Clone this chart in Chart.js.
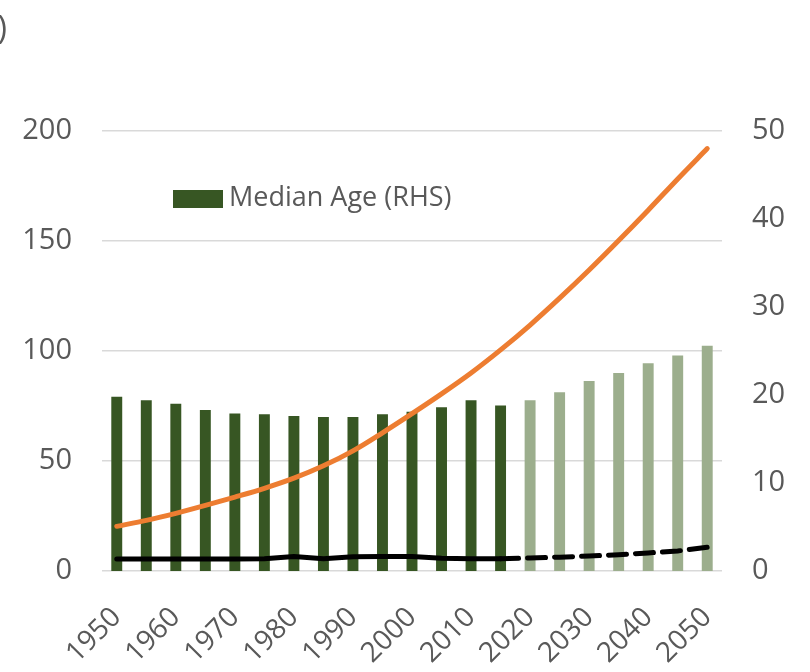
<!DOCTYPE html>
<html>
<head>
<meta charset="utf-8">
<script src="https://cdn.jsdelivr.net/npm/chart.js@4.4.1/dist/chart.umd.min.js"></script>
<style>
  body { margin: 0; background: #fff; }
  #wrap { width: 810px; height: 672px; }
</style>
</head>
<body>
<div id="wrap"><canvas id="popChart" width="810" height="672"></canvas></div>
<script>
// years on the category axis (every 5 years)
const years = [1950, 1955, 1960, 1965, 1970, 1975, 1980, 1985, 1990, 1995, 2000,
  2005, 2010, 2015, 2020, 2025, 2030, 2035, 2040, 2045, 2050];

// median age, right hand scale
const medianAge = [19.8, 19.4, 19.0, 18.3, 17.9, 17.8, 17.6, 17.5, 17.5, 17.8, 18.1,
  18.6, 19.4, 18.8, 19.4, 20.3, 21.6, 22.5, 23.6, 24.5, 25.6];

// orange line, left hand scale
const orangeSeries = [20.3, 23.0, 26.2, 29.8, 33.6, 37.6, 42.2, 47.8, 54.6, 62.8, 71.5,
  80.5, 90.0, 100.5, 111.8, 124.0, 136.8, 150.2, 164.0, 178.2, 192.0];

// black line, left hand scale
const blackSeries = [5.5, 5.5, 5.5, 5.5, 5.5, 5.6, 6.6, 5.6, 6.5, 6.6, 6.6,
  5.8, 5.6, 5.6, 5.9, 6.3, 6.8, 7.4, 8.2, 9.1, 10.8];

const leftTicks = [0, 50, 100, 150, 200];
const rightTicks = [0, 10, 20, 30, 40, 50];
const lastActualYear = 2015;

const FONT = '"Open Sans", "Liberation Sans", sans-serif';
const GREY = '#595959';
const DARK_GREEN = '#375623';
const LIGHT_GREEN = '#9cae8d';

const lastActualIdx = years.indexOf(lastActualYear);
const barColors = years.map(y => y <= lastActualYear ? DARK_GREEN : LIGHT_GREEN);

// legend + cut-off label drawn in the free space above the plot
const extrasPlugin = {
  id: 'extras',
  afterDraw(chart) {
    const ctx = chart.ctx;
    ctx.save();
    ctx.fillStyle = DARK_GREEN;
    ctx.fillRect(173, 190, 50, 18);
    ctx.fillStyle = GREY;
    ctx.font = '27px ' + FONT;
    ctx.textBaseline = 'middle';
    ctx.textAlign = 'left';
    ctx.fillText('Median Age (RHS)', 229, 198);
    ctx.font = '32px ' + FONT;
    ctx.textAlign = 'right';
    ctx.fillText(')', 7, 30);
    ctx.restore();
  }
};

const ctx = document.getElementById('popChart').getContext('2d');
new Chart(ctx, {
  type: 'bar',
  data: {
    labels: years.map(String),
    datasets: [
      {
        type: 'line',
        label: 'Orange',
        data: orangeSeries,
        yAxisID: 'y',
        borderColor: '#ed7d31',
        borderWidth: 5,
        pointRadius: 0,
        cubicInterpolationMode: 'monotone',
        borderCapStyle: 'round'
      },
      {
        type: 'line',
        label: 'Black',
        data: blackSeries,
        yAxisID: 'y',
        borderColor: '#000000',
        borderWidth: 5,
        pointRadius: 0,
        tension: 0,
        borderCapStyle: 'round',
        segment: {
          borderDash: c => c.p0DataIndex >= lastActualIdx ? [18, 9] : undefined
        }
      },
      {
        label: 'Median Age (RHS)',
        data: medianAge,
        yAxisID: 'y1',
        backgroundColor: barColors,
        barPercentage: 0.37,
        categoryPercentage: 1
      }
    ]
  },
  options: {
    responsive: false,
    animation: false,
    layout: { padding: { top: 131, left: 0, right: 0, bottom: 0 } },
    plugins: {
      legend: { display: false },
      tooltip: { enabled: false }
    },
    scales: {
      x: {
        grid: { display: false },
        border: { display: false },
        afterFit: s => { s.height = 101; },
        ticks: {
          autoSkip: false,
          maxRotation: 45,
          minRotation: 45,
          padding: 22,
          color: GREY,
          font: { family: FONT, size: 28 },
          callback: function (val, i) { return i % 2 === 0 ? this.getLabelForValue(val) : ''; }
        }
      },
      y: {
        position: 'left',
        min: leftTicks[0],
        max: leftTicks[leftTicks.length - 1],
        afterBuildTicks: s => { s.ticks = leftTicks.map(v => ({ value: v })); },
        afterFit: s => { s.width = 102; },
        grid: { color: '#d9d9d9', lineWidth: 1.5, drawTicks: false },
        border: { display: false },
        ticks: { padding: 30, color: GREY, font: { family: FONT, size: 29 } }
      },
      y1: {
        position: 'right',
        min: rightTicks[0],
        max: rightTicks[rightTicks.length - 1],
        afterBuildTicks: s => { s.ticks = rightTicks.map(v => ({ value: v })); },
        afterFit: s => { s.width = 88; },
        grid: { display: false, drawTicks: false },
        border: { display: false },
        ticks: { padding: 30, color: GREY, font: { family: FONT, size: 29 } }
      }
    }
  },
  plugins: [extrasPlugin]
});
</script>
</body>
</html>
